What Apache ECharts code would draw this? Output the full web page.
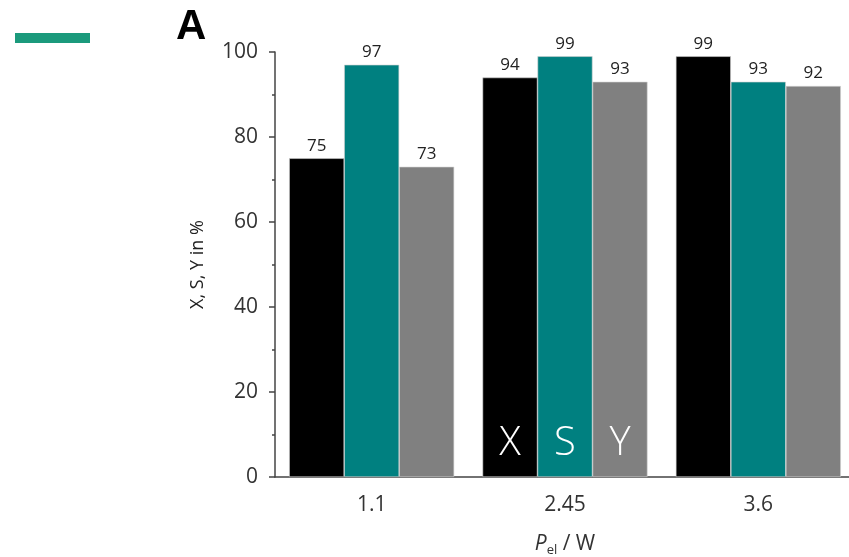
<!DOCTYPE html>
<html><head><meta charset="utf-8">
<script src="https://cdn.jsdelivr.net/npm/echarts@6/dist/echarts.min.js"></script>
<style>html,body{margin:0;padding:0;background:#fff}#c{width:849px;height:557px}</style>
</head><body><div id="c"></div>
<script>
const categories = ['1.1', '2.45', '3.6'];
const seriesNames = ['X', 'S', 'Y'];
const valuesX = [75, 94, 99];
const valuesS = [97, 99, 93];
const valuesY = [73, 93, 92];
const yTicks = [0, 20, 40, 60, 80, 100];
const colors = ['#000000', '#008080', '#808080'];
const FONT = 'Open Sans';
const BW = 55;

const chart = echarts.init(document.getElementById('c'));
function mk(name, data, color) {
  return {
    name, type: 'bar', data, barWidth: BW, barGap: '0%',
    itemStyle: { color, borderColor: '#d0d0d0', borderWidth: 0.6 },
    label: { show: true, position: 'top', distance: 4, color: '#222', fontSize: 17, fontFamily: FONT },
    animation: false
  };
}
chart.setOption({
  animation: false,
  grid: { left: 275, right: -6, top: 52, bottom: 80, outerBoundsMode: 'none', containLabel: false },
  xAxis: {
    type: 'category', data: categories,
    axisLine: { lineStyle: { color: '#444', width: 1.5 } },
    axisTick: { alignWithLabel: true, length: 6, lineStyle: { color: '#444', width: 1.5 } },
    axisLabel: { fontSize: 21, color: '#333', fontFamily: FONT, margin: 18 },
    name: '{p|P}{s|el} / W', nameLocation: 'middle', nameGap: 55,
    nameTextStyle: { fontSize: 21, color: '#333', fontFamily: FONT,
      rich: { p: { fontStyle: 'italic', fontSize: 21, color: '#333', fontFamily: FONT },
              s: { fontSize: 13, color: '#333', fontFamily: FONT, verticalAlign: 'bottom', padding: [12, 0, 0, 0] } } }
  },
  yAxis: {
    type: 'value', min: 0, max: 100, interval: 20,
    axisLine: { show: true, lineStyle: { color: '#444', width: 1.5 } },
    axisTick: { show: true, length: 6, lineStyle: { color: '#444', width: 1.5 } },
    minorTick: { show: true, splitNumber: 2, length: 3, lineStyle: { color: '#444', width: 1.5 } },
    splitLine: { show: false },
    axisLabel: { fontSize: 21, color: '#333', fontFamily: FONT, margin: 17 },
    name: 'X, S, Y in %', nameLocation: 'middle', nameGap: 68,
    nameTextStyle: { fontSize: 18, color: '#222', fontFamily: FONT }
  },
  series: [mk(seriesNames[0], valuesX, colors[0]), mk(seriesNames[1], valuesS, colors[1]), mk(seriesNames[2], valuesY, colors[2])]
});

const p = chart.convertToPixel({ gridIndex: 0 }, [categories[1], 0]);
const g = [
  { type: 'rect', z: 100, shape: { x: 15, y: 33, width: 75, height: 10 }, style: { fill: '#1b9a7c' } },
  { type: 'text', z: 100, left: 176, top: 6, style: { text: 'A', fontSize: 42, fontWeight: 'bold', fontFamily: 'Liberation Sans', fill: '#000' } }
];
seriesNames.forEach((n, i) => {
  g.push({ type: 'text', z: 100, x: p[0] + (i - 1) * BW, y: p[1] - 33,
    style: { text: n, fontSize: 40, fontWeight: 300, fontFamily: FONT, fill: '#fff', align: 'center', verticalAlign: 'middle' } });
});
chart.setOption({ graphic: g });
</script></body></html>
